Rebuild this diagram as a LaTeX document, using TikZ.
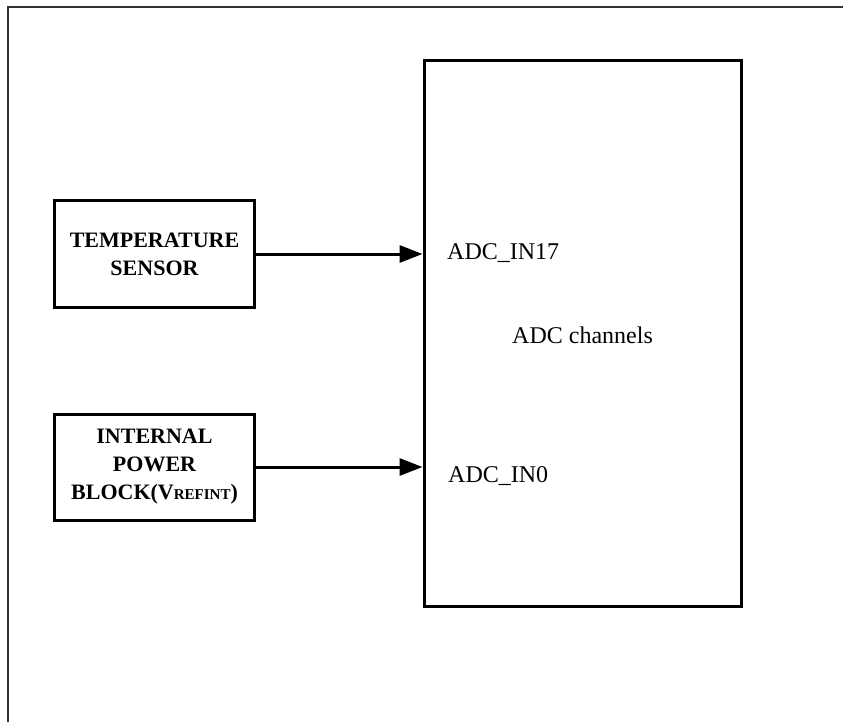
\documentclass[tikz,border=0pt]{standalone}
\usepackage{fontspec}
\setmainfont{Liberation Serif}
\usetikzlibrary{arrows.meta}
\begin{document}
\begin{tikzpicture}[x=1pt,y=-1pt,
  frameline/.style={line width=1.5pt,draw=black!80},
  blockbox/.style={draw,line width=3pt,minimum width=200pt,minimum height=106pt,align=center,
    font=\fontsize{22}{28}\selectfont\bfseries,inner sep=0pt},
  bigbox/.style={draw,line width=3pt,minimum width=317pt,minimum height=545pt,inner sep=0pt},
  lbl/.style={font=\fontsize{24}{28}\selectfont,inner sep=0pt,anchor=base west},
  arr/.style={line width=3pt,-{Triangle[length=23pt,width=17pt]}}]
\useasboundingbox (0,0) rectangle (843,722);
\fill[white] (0,0) rectangle (843,722);
\draw[frameline] (8,723) -- (8,7) -- (844,7);
\node[bigbox] (adc) at (582.5,333.5) {};
\node[blockbox] (temp) at (154.5,254) {TEMPERATURE\\SENSOR};
\node[blockbox] (pwr) at (154.5,467) {INTERNAL\\POWER\\BLOCK(V{\fontsize{15}{15}\selectfont REFINT})};
\draw[arr] (temp.east) -- (temp.east -| adc.west);
\draw[arr] (pwr.east) -- (pwr.east -| adc.west);
\node[lbl] (in17) at (447,259) {ADC\_IN17};
\node[lbl] (chan) at (512,343) {ADC channels};
\node[lbl] (in0) at (448,482) {ADC\_IN0};
\end{tikzpicture}
\end{document}
